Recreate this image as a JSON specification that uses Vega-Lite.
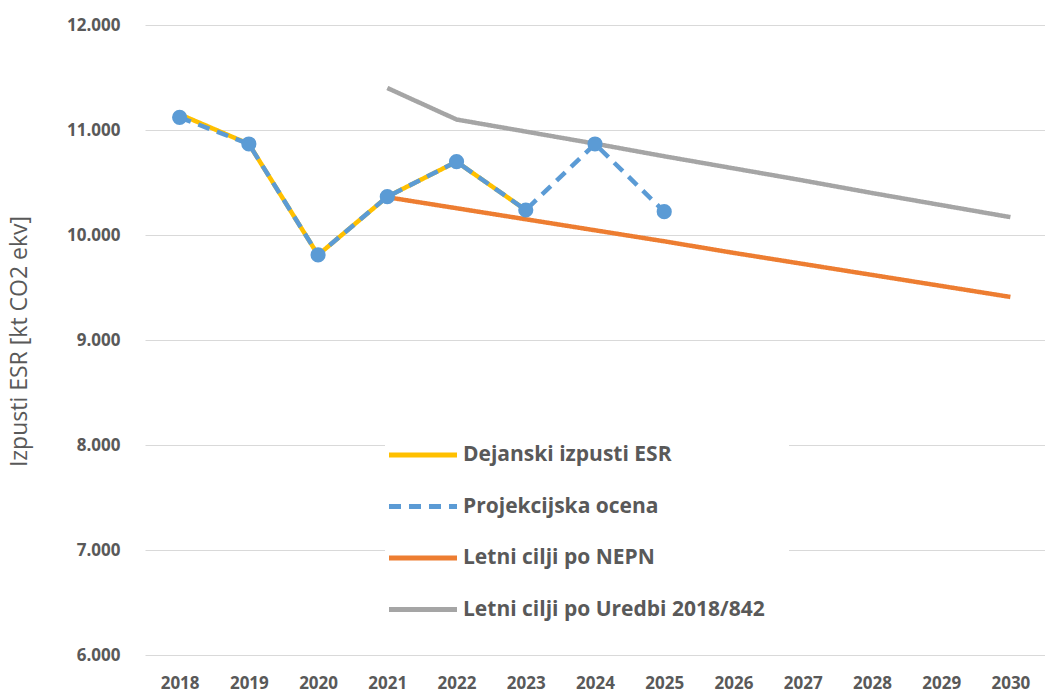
{
  "$schema": "https://vega.github.io/schema/vega-lite/v6.json",
  "autosize": "none",
  "width": 900,
  "height": 630,
  "padding": {"left": 145, "top": 25, "right": 0, "bottom": 40},
  "background": "white",
  "config": {
    "view": {"stroke": null},
    "font": "Open Sans"
  },
  "data": {
    "values": [
      {"year": 2018, "series": "Dejanski izpusti ESR", "value": 11150},
      {"year": 2019, "series": "Dejanski izpusti ESR", "value": 10867},
      {"year": 2020, "series": "Dejanski izpusti ESR", "value": 9810},
      {"year": 2021, "series": "Dejanski izpusti ESR", "value": 10365},
      {"year": 2022, "series": "Dejanski izpusti ESR", "value": 10698},
      {"year": 2023, "series": "Dejanski izpusti ESR", "value": 10238},
      {"year": 2018, "series": "Projekcijska ocena", "value": 11121},
      {"year": 2019, "series": "Projekcijska ocena", "value": 10867},
      {"year": 2020, "series": "Projekcijska ocena", "value": 9810},
      {"year": 2021, "series": "Projekcijska ocena", "value": 10365},
      {"year": 2022, "series": "Projekcijska ocena", "value": 10698},
      {"year": 2023, "series": "Projekcijska ocena", "value": 10238},
      {"year": 2024, "series": "Projekcijska ocena", "value": 10867},
      {"year": 2025, "series": "Projekcijska ocena", "value": 10222},
      {"year": 2021, "series": "Letni cilji po NEPN", "value": 10360},
      {"year": 2022, "series": "Letni cilji po NEPN", "value": 10255},
      {"year": 2023, "series": "Letni cilji po NEPN", "value": 10150},
      {"year": 2024, "series": "Letni cilji po NEPN", "value": 10045},
      {"year": 2025, "series": "Letni cilji po NEPN", "value": 9940},
      {"year": 2026, "series": "Letni cilji po NEPN", "value": 9830},
      {"year": 2027, "series": "Letni cilji po NEPN", "value": 9725},
      {"year": 2028, "series": "Letni cilji po NEPN", "value": 9620},
      {"year": 2029, "series": "Letni cilji po NEPN", "value": 9515},
      {"year": 2030, "series": "Letni cilji po NEPN", "value": 9410},
      {"year": 2021, "series": "Letni cilji po Uredbi 2018/842", "value": 11400},
      {"year": 2022, "series": "Letni cilji po Uredbi 2018/842", "value": 11100},
      {"year": 2023, "series": "Letni cilji po Uredbi 2018/842", "value": 10985},
      {"year": 2024, "series": "Letni cilji po Uredbi 2018/842", "value": 10870},
      {"year": 2025, "series": "Letni cilji po Uredbi 2018/842", "value": 10750},
      {"year": 2026, "series": "Letni cilji po Uredbi 2018/842", "value": 10635},
      {"year": 2027, "series": "Letni cilji po Uredbi 2018/842", "value": 10520},
      {"year": 2028, "series": "Letni cilji po Uredbi 2018/842", "value": 10400},
      {"year": 2029, "series": "Letni cilji po Uredbi 2018/842", "value": 10285},
      {"year": 2030, "series": "Letni cilji po Uredbi 2018/842", "value": 10170}
    ]
  },
  "encoding": {
    "x": {
      "field": "year",
      "type": "ordinal",
      "scale": {"type": "point", "padding": 0.5, "domain": [2018,2019,2020,2021,2022,2023,2024,2025,2026,2027,2028,2029,2030]},
      "axis": {
        "title": null,
        "labelAngle": 0,
        "domain": false,
        "ticks": false,
        "labelPadding": 20,
        "labelFontSize": 17,
        "labelFontWeight": "bold",
        "labelColor": "#595959"
      }
    },
    "y": {
      "field": "value",
      "type": "quantitative",
      "scale": {"domain": [6000, 12000], "nice": false, "zero": false},
      "axis": {
        "title": "Izpusti ESR [kt CO2 ekv]",
        "titleFontSize": 23,
        "titleFontWeight": "normal",
        "titleColor": "#595959",
        "titleX": -126,
        "titleY": 316,
        "titleAngle": -90,
        "titleBaseline": "middle",
        "titleAlign": "center",
        "values": [6000,7000,8000,9000,10000,11000,12000],
        "labelExpr": "replace(format(datum.value, ','), ',', '.')",
        "labelFontSize": 17,
        "labelFontWeight": "bold",
        "labelColor": "#595959",
        "labelPadding": 25,
        "domain": false,
        "ticks": false,
        "gridColor": "#d9d9d9",
        "gridWidth": 1
      }
    }
  },
  "layer": [
    {
      "mark": {"type": "line", "strokeWidth": 4.5, "strokeCap": "butt"},
      "encoding": {
        "color": {
          "field": "series",
          "type": "nominal",
          "scale": {
            "domain": ["Letni cilji po Uredbi 2018/842", "Letni cilji po NEPN", "Dejanski izpusti ESR", "Projekcijska ocena"],
            "range": ["#A5A5A5", "#ED7D31", "#FFC000", "#5B9BD5"]
          },
          "legend": {
            "title": null,
            "orient": "none",
            "legendX": 240,
            "legendY": 392,
            "values": ["Dejanski izpusti ESR", "Projekcijska ocena", "Letni cilji po NEPN", "Letni cilji po Uredbi 2018/842"],
            "fillColor": "white",
            "padding": 24,
            "symbolType": "M-3,0H3",
            "symbolSize": 514,
            "symbolStrokeWidth": 5,
            "labelFontSize": 21,
            "labelFontWeight": "bold",
            "labelColor": "#595959",
            "labelOffset": 26,
            "labelLimit": 450,
            "rowPadding": 27.5
          }
        },
        "strokeDash": {
          "field": "series",
          "type": "nominal",
          "scale": {
            "domain": ["Letni cilji po Uredbi 2018/842", "Letni cilji po NEPN", "Dejanski izpusti ESR", "Projekcijska ocena"],
            "range": [[1, 0], [1, 0], [1, 0], [12, 8]]
          },
          "legend": null
        },
        "order": {"field": "year", "type": "quantitative"}
      }
    },
    {
      "transform": [{"filter": "datum.series === 'Dejanski izpusti ESR'"}],
      "mark": {"type": "point", "filled": true, "opacity": 1, "size": 60, "color": "#FFC000"},
      "encoding": {}
    },
    {
      "transform": [{"filter": "datum.series === 'Projekcijska ocena'"}],
      "mark": {"type": "point", "filled": true, "opacity": 1, "size": 230, "color": "#5B9BD5"},
      "encoding": {}
    }
  ]
}
